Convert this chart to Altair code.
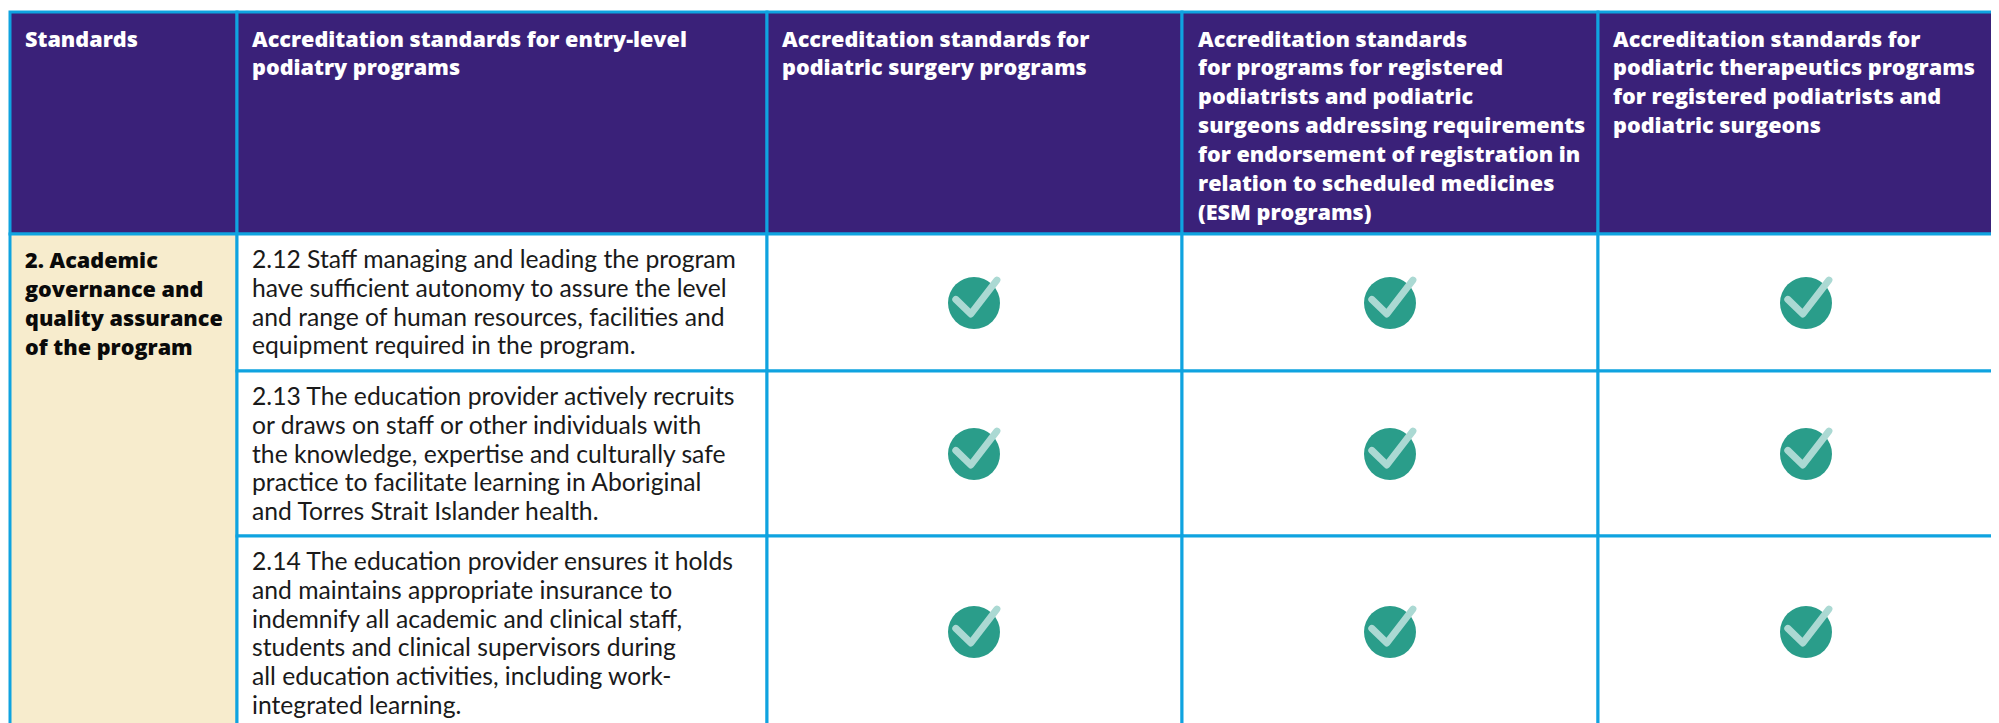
import altair as alt
import pandas as pd

# column edges and row edges of the table, in page pixels
col_edges = [10, 237, 767, 1182, 1598, 2010]
row_edges = [12, 234, 371, 536, 735]

PURPLE = "#3A2179"
BLUE = "#0FA3E0"
CREAM = "#F7ECCD"

header_x = [25, 252, 782, 1198, 1613]
header_lines = [
    ["Standards"],
    ["Accreditation standards for entry-level", "podiatry programs"],
    ["Accreditation standards for", "podiatric surgery programs"],
    ["Accreditation standards", "for programs for registered", "podiatrists and podiatric",
     "surgeons addressing requirements", "for endorsement of registration in",
     "relation to scheduled medicines", "(ESM programs)"],
    ["Accreditation standards for", "podiatric therapeutics programs",
     "for registered podiatrists and", "podiatric surgeons"],
]
header_first = 46.5
header_step = 28.9

section_lines = ["2. Academic", "governance and", "quality assurance", "of the program"]
section_x = 25
section_first = 268

body_x = 252
body_rows = [
    (268, ["2.12 Staff managing and leading the program",
           "have sufficient autonomy to assure the level",
           "and range of human resources, facilities and",
           "equipment required in the program."]),
    (405, ["2.13 The education provider actively recruits",
           "or draws on staff or other individuals with",
           "the knowledge, expertise and culturally safe",
           "practice to facilitate learning in Aboriginal",
           "and Torres Strait Islander health."]),
    (570, ["2.14 The education provider ensures it holds",
           "and maintains appropriate insurance to",
           "indemnify all academic and clinical staff,",
           "students and clinical supervisors during",
           "all education activities, including work-",
           "integrated learning."]),
]
body_step = 28.8

check_x = [974, 1390, 1806]
check_y = [303, 454, 632]

cells = []
for i in range(5):
    cells.append(dict(x=col_edges[i], x2=col_edges[i+1], y=row_edges[0], y2=row_edges[1], fill=PURPLE))
cells.append(dict(x=col_edges[0], x2=col_edges[1], y=row_edges[1], y2=row_edges[4], fill=CREAM))
for r in range(1, 4):
    for c in range(1, 5):
        cells.append(dict(x=col_edges[c], x2=col_edges[c+1], y=row_edges[r], y2=row_edges[r+1], fill="#FFFFFF"))

head_rows = [dict(x=header_x[i], y=header_first + j*header_step, t=l)
             for i, ls in enumerate(header_lines) for j, l in enumerate(ls)]
sec_rows = [dict(x=section_x, y=section_first + j*header_step, t=l) for j, l in enumerate(section_lines)]
body_data = [dict(x=body_x, y=y0 + j*body_step, t=l) for y0, ls in body_rows for j, l in enumerate(ls)]
check_data = [dict(x=x, y=y) for y in check_y for x in check_x]

X = alt.X("x:Q", axis=None, scale=alt.Scale(domain=[8, 1991], nice=False, zero=False))
Y = alt.Y("y:Q", axis=None, scale=alt.Scale(domain=[8, 723], nice=False, zero=False, reverse=True))

rects = alt.Chart(pd.DataFrame(cells)).mark_rect(stroke=BLUE, strokeWidth=3, clip=True).encode(
    x=X, x2="x2:Q", y=Y, y2="y2:Q", fill=alt.Fill("fill:N", scale=None))

def text_layer(rows, color, font, weight, size):
    return alt.Chart(pd.DataFrame(rows)).mark_text(
        align="left", baseline="alphabetic", font=font, fontWeight=weight, fontSize=size, color=color
    ).encode(x=X, y=Y, text="t:N")

head = text_layer(head_rows, "#FFFFFF", "Open Sans", 800, 21.6)
sec = text_layer(sec_rows, "#0A0A0A", "Open Sans", 800, 21.6)
body = text_layer(body_data, "#1A1A1A", "Lato", 400, 24.7)

circles = alt.Chart(pd.DataFrame(check_data)).mark_point(
    shape="circle", filled=True, size=2704, color="#2A9D8A", opacity=1, strokeWidth=0
).encode(x=X, y=Y)
ticks = alt.Chart(pd.DataFrame(check_data)).mark_point(
    shape="M -0.7 -0.14 L -0.12 0.42 L 0.88 -0.88", filled=False, size=2704,
    color="#ABD9D3", opacity=1, strokeWidth=7, strokeCap="round", strokeJoin="round"
).encode(x=X, y=Y)

chart = alt.layer(rects, head, sec, body, circles, ticks).properties(
    width=1983, height=715, padding=0, background="#FFFFFF",
    autosize=alt.AutoSizeParams(type="none")
).configure_view(stroke=None)

chart.save("out.html", embed_options={"renderer": "svg", "actions": False})
